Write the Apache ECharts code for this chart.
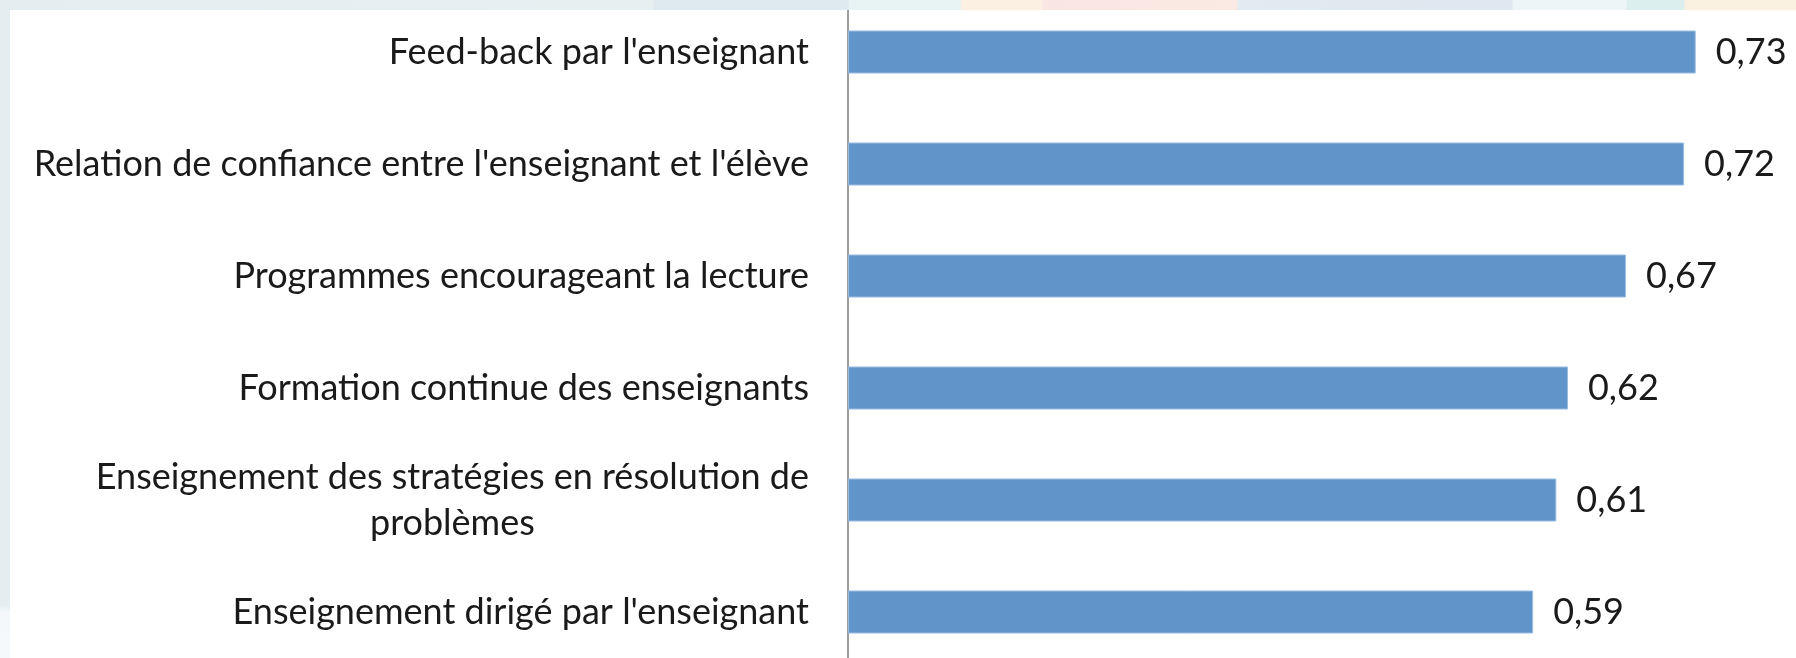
<!DOCTYPE html>
<html>
<head>
<meta charset="utf-8">
<script src="https://cdn.jsdelivr.net/npm/echarts@6/dist/echarts.min.js"></script>
<style>
  html, body { margin: 0; padding: 0; }
  body {
    width: 1796px; height: 658px; overflow: hidden; position: relative;
    background: linear-gradient(180deg, #e4eef1 0%, #e4eef1 92%, #f4f8fa 93%, #f6f9fb 100%);
  }
  #strip {
    position: absolute; left: 0; top: 0; width: 1796px; height: 10px;
    background: linear-gradient(90deg,
      #e4eef0 0px, #e6f0f1 653px, #dfe9f0 654px, #dfe9f0 848px,
      #e8f3f3 849px, #e8f3f3 960px, #fbf0e2 962px, #fbf0e2 1042px,
      #f9e5e2 1043px, #fbeae4 1237px, #e1ebf1 1238px, #dfe7f0 1512px,
      #edf5f6 1513px, #edf5f6 1626px, #dcefef 1627px, #dcefef 1684px,
      #fbf1e0 1685px, #fbf1e0 1796px);
  }
  #chart {
    position: absolute; left: 10px; top: 10px;
    width: 1786px; height: 648px; background: #ffffff;
  }
</style>
</head>
<body>
<div id="strip"></div>
<div id="chart"></div>
<script>
var categories = [
  "Feed-back par l'enseignant",
  "Relation de confiance entre l'enseignant et l'élève",
  "Programmes encourageant la lecture",
  "Formation continue des enseignants",
  "Enseignement des stratégies en résolution de\nproblèmes",
  "Enseignement dirigé par l'enseignant"
];
var values = [0.73, 0.72, 0.67, 0.62, 0.61, 0.59];

var ink = '#1a1a1a';
var font = 'Lato';

var chart = echarts.init(document.getElementById('chart'), null, { renderer: 'canvas' });
chart.setOption({
  animation: false,
  grid: {
    left: 838,
    right: 19,
    top: -14,
    height: 672,
    containLabel: false,
    outerBoundsMode: 'none'
  },
  xAxis: {
    type: 'value',
    min: 0,
    max: 0.8,
    show: false
  },
  yAxis: {
    type: 'category',
    inverse: true,
    data: categories,
    axisLine: { show: true, lineStyle: { color: '#9d9d9d', width: 2 } },
    axisTick: { show: false },
    axisLabel: {
      margin: 39,
      color: ink,
      fontFamily: font,
      fontSize: 36,
      lineHeight: 46,
      formatter: function(v) {
        var parts = v.split('\n');
        if (parts.length === 1) return v;
        return '{a|' + parts[0] + '}\n{b|' + parts[1] + '}';
      },
      rich: {
        a: { color: ink, fontFamily: font, fontSize: 36, lineHeight: 46 },
        b: { color: ink, fontFamily: font, fontSize: 36, lineHeight: 46, align: 'center' }
      }
    }
  },
  series: [
    {
      type: 'bar',
      data: values,
      barWidth: 43,
      itemStyle: { color: '#6194c9', borderColor: '#9bbde0', borderWidth: 1 },
      label: {
        show: true,
        position: 'right',
        distance: 20,
        color: ink,
        fontFamily: font,
        fontSize: 36,
        formatter: function(p) { return p.value.toFixed(2).replace('.', ','); }
      }
    }
  ]
});
window.addEventListener('resize', function() { chart.resize(); });
</script>
</body>
</html>
